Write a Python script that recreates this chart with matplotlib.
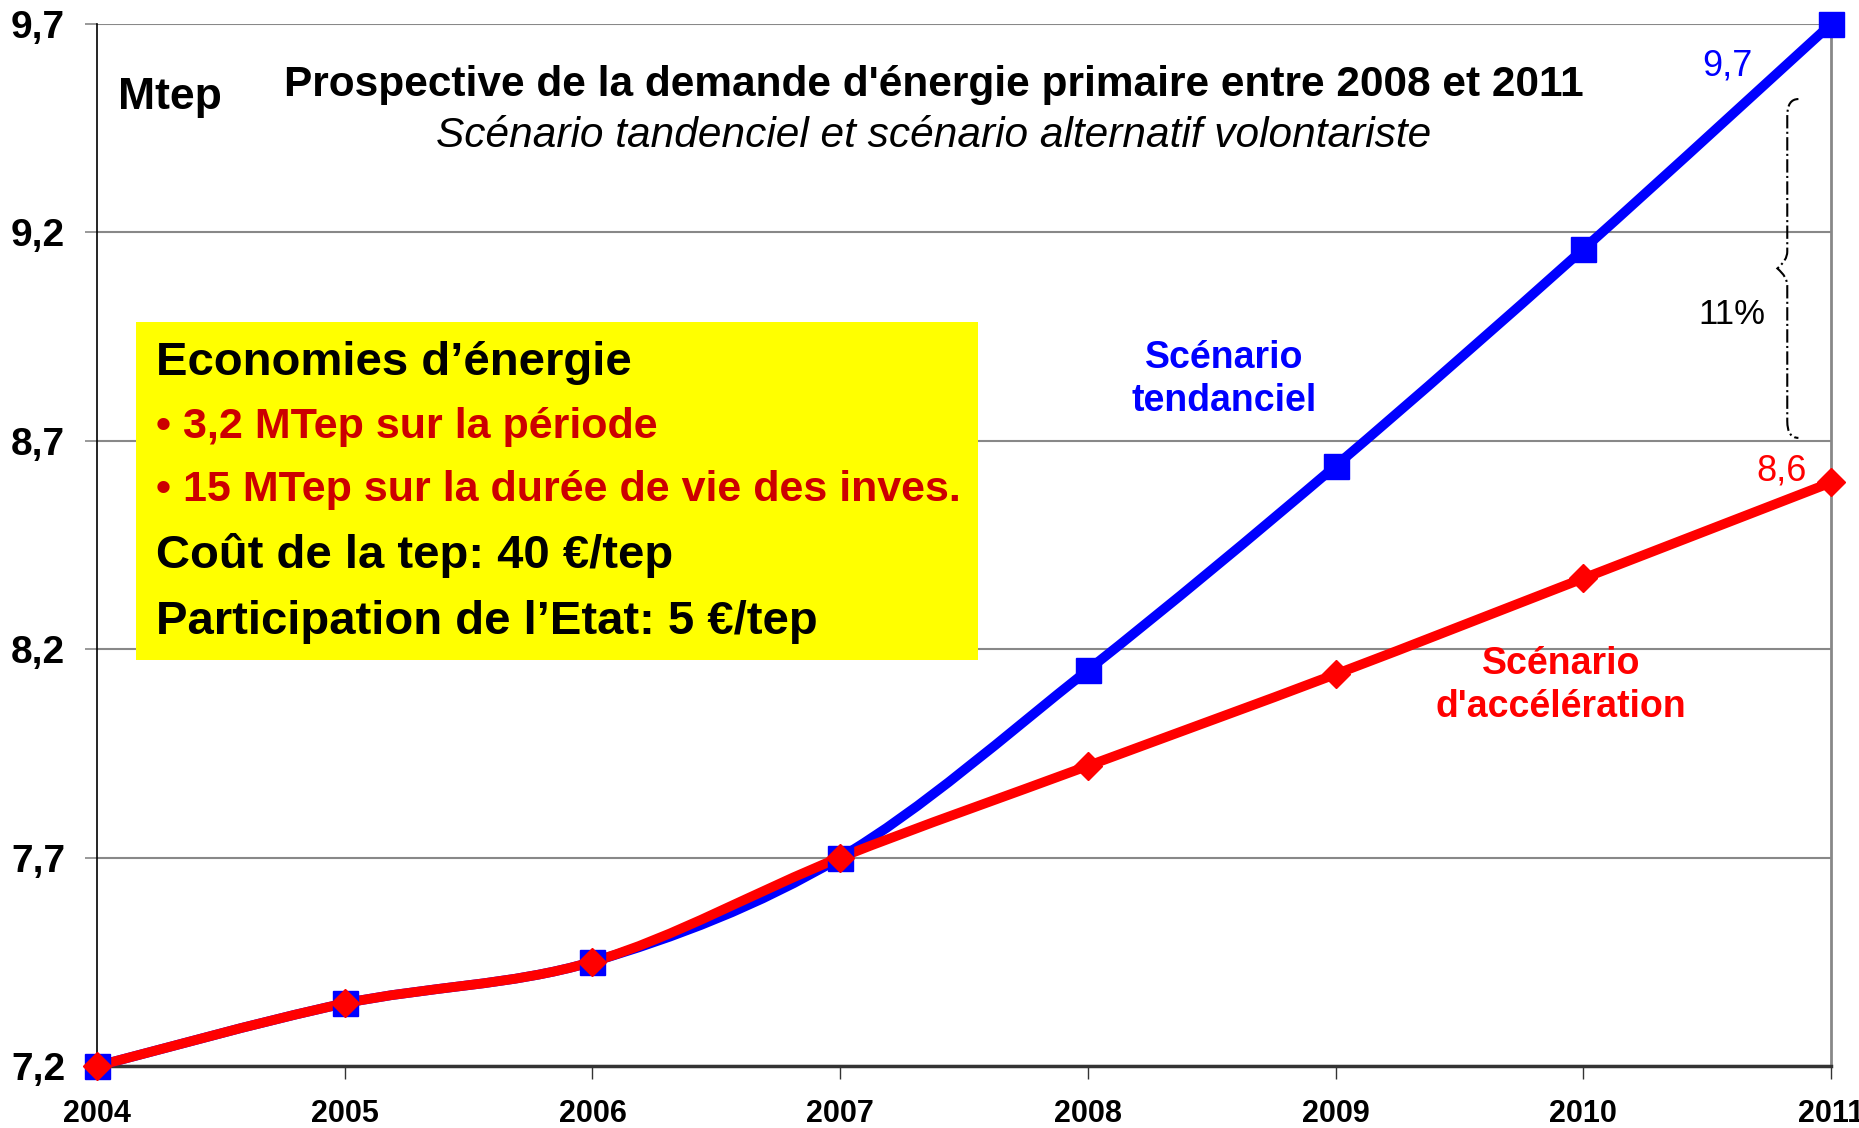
import matplotlib
matplotlib.use("Agg")
import matplotlib.pyplot as plt
import numpy as np
from matplotlib.path import Path
from matplotlib.patches import PathPatch, Rectangle

plt.rcParams["font.family"] = ["Liberation Sans", "DejaVu Sans"]

# data
years = [2004, 2005, 2006, 2007, 2008, 2009, 2010, 2011]
tendanciel = [7.2, 7.35, 7.45, 7.7, 8.15, 8.64, 9.16, 9.7]
acceleration = [7.2, 7.35, 7.45, 7.7, 7.92, 8.14, 8.37, 8.6]
yticks = [7.2, 7.7, 8.2, 8.7, 9.2, 9.7]
ytick_labels = ["7,2", "7,7", "8,2", "8,7", "9,2", "9,7"]

box_lines = [
    ("Economies d\u2019énergie", "black", 34),
    ("\u2022 3,2 MTep sur la période", "#CC0000", 31),
    ("\u2022 15 MTep sur la durée de vie des inves.", "#CC0000", 31),
    ("Coût de la tep: 40 \u20ac/tep", "black", 34),
    ("Participation de l\u2019Etat: 5 \u20ac/tep", "black", 34),
]

BLUE = "#0000FF"
RED = "#FF0000"


def smooth_path(x, y):
    """Excel-like smoothed line: Catmull-Rom converted to cubic Beziers."""
    p = np.column_stack([x, y]).astype(float)
    n = len(p)
    verts = [p[0]]
    codes = [Path.MOVETO]
    for i in range(n - 1):
        p0 = p[i - 1] if i > 0 else p[i]
        p3 = p[i + 2] if i + 2 < n else p[i + 1]
        c1 = p[i] + (p[i + 1] - p0) / 6
        c2 = p[i + 1] - (p3 - p[i]) / 6
        verts += [c1, c2, p[i + 1]]
        codes += [Path.CURVE4] * 3
    return Path(verts, codes)


fig = plt.figure(figsize=(18.59, 11.28), dpi=100)
ax = fig.add_axes([0.0522, 0.0550, 0.9328, 0.9237])
ax.set_xlim(2004, 2011)
ax.set_ylim(7.2, 9.7)

ax.set_yticks(yticks)
ax.set_yticklabels(ytick_labels, fontsize=28, fontweight="bold")
ax.set_xticks(years)
ax.set_xticklabels([str(y) for y in years], fontsize=22, fontweight="bold")
ax.tick_params(axis="y", direction="out", length=9, width=1.2, color="#888888", pad=14)
ax.tick_params(axis="x", direction="out", length=9, width=1, color="#333333", pad=15)
ax.yaxis.grid(True, color="#888888", lw=1.5)
ax.set_axisbelow(True)
ax.spines["top"].set_visible(False)
ax.spines["left"].set_color("black")
ax.spines["left"].set_linewidth(1.2)
ax.spines["right"].set_color("#888888")
ax.spines["right"].set_linewidth(2)
ax.spines["bottom"].set_color("#333333")
ax.spines["bottom"].set_linewidth(2.5)

# series: blue first, red on top
for vals, col, mk, ms in [(tendanciel, BLUE, "s", 18), (acceleration, RED, "D", 14)]:
    ax.add_patch(PathPatch(smooth_path(years, vals), fill=False, edgecolor=col,
                           lw=7, capstyle="round", joinstyle="round", zorder=3,
                           clip_on=False))
    ax.plot(years, vals, ls="none", marker=mk, ms=ms, color=col, mec=col,
            zorder=4, clip_on=False)

# end labels
ax.text(2010.58, 9.60, "9,7", color=BLUE, fontsize=26, ha="center", va="center")
ax.text(2010.80, 8.627, "8,6", color=RED, fontsize=26, ha="center", va="center")

# brace with 11%
b_top, b_bot, bx = 9.52, 8.707, 2010.823
b_mid = (b_top + b_bot) / 2
dx = 0.045
brace = Path(
    [(bx + dx, b_top), (bx, b_top), (bx, b_top - 0.04), (bx, b_top - 0.08),
     (bx, b_mid + 0.04), (bx, b_mid + 0.02), (bx - 0.04, b_mid),
     (bx, b_mid - 0.02), (bx, b_mid - 0.04), (bx, b_bot + 0.08),
     (bx, b_bot + 0.04), (bx, b_bot), (bx + dx, b_bot)],
    [Path.MOVETO, Path.CURVE3, Path.CURVE3, Path.LINETO,
     Path.LINETO, Path.CURVE3, Path.CURVE3,
     Path.CURVE3, Path.CURVE3, Path.LINETO,
     Path.LINETO, Path.CURVE3, Path.CURVE3],
)
ax.add_patch(PathPatch(brace, fill=False, edgecolor="black", lw=1.5, ls="-.", zorder=2))
ax.text(2010.60, 9.004, "11%", fontsize=25, ha="center", va="center")

# series labels
ax.text(2008.55, 8.846, "Scénario\ntendanciel", color=BLUE, fontsize=27,
        fontweight="bold", ha="center", va="center", linespacing=1.25)
ax.text(2009.91, 8.114, "Scénario\nd'accélération", color=RED, fontsize=27,
        fontweight="bold", ha="center", va="center", linespacing=1.25)

# titles
fig.text(0.5025, 1 - 85 / 1128, "Prospective de la demande d'énergie primaire entre 2008 et 2011",
         fontsize=30.5, fontweight="bold", ha="center", va="center")
fig.text(0.502, 1 - 136 / 1128, "Scénario tandenciel et scénario alternatif volontariste",
         fontsize=30.5, style="italic", ha="center", va="center")
fig.text(118 / 1859, 1 - 97 / 1128, "Mtep", fontsize=32, fontweight="bold",
         ha="left", va="center")

# yellow box
fig.patches.append(Rectangle((136 / 1859, 1 - 660 / 1128), 842 / 1859, 338 / 1128,
                             transform=fig.transFigure, facecolor="#FFFF00",
                             edgecolor="none", zorder=5))
line_y = [363, 427, 490, 555, 622]
for (txt, col, fs), yy in zip(box_lines, line_y):
    fig.text(156 / 1859, 1 - yy / 1128, txt, color=col, fontsize=fs,
             fontweight="bold", ha="left", va="center", zorder=6)

fig.savefig("out.png", dpi=100)
